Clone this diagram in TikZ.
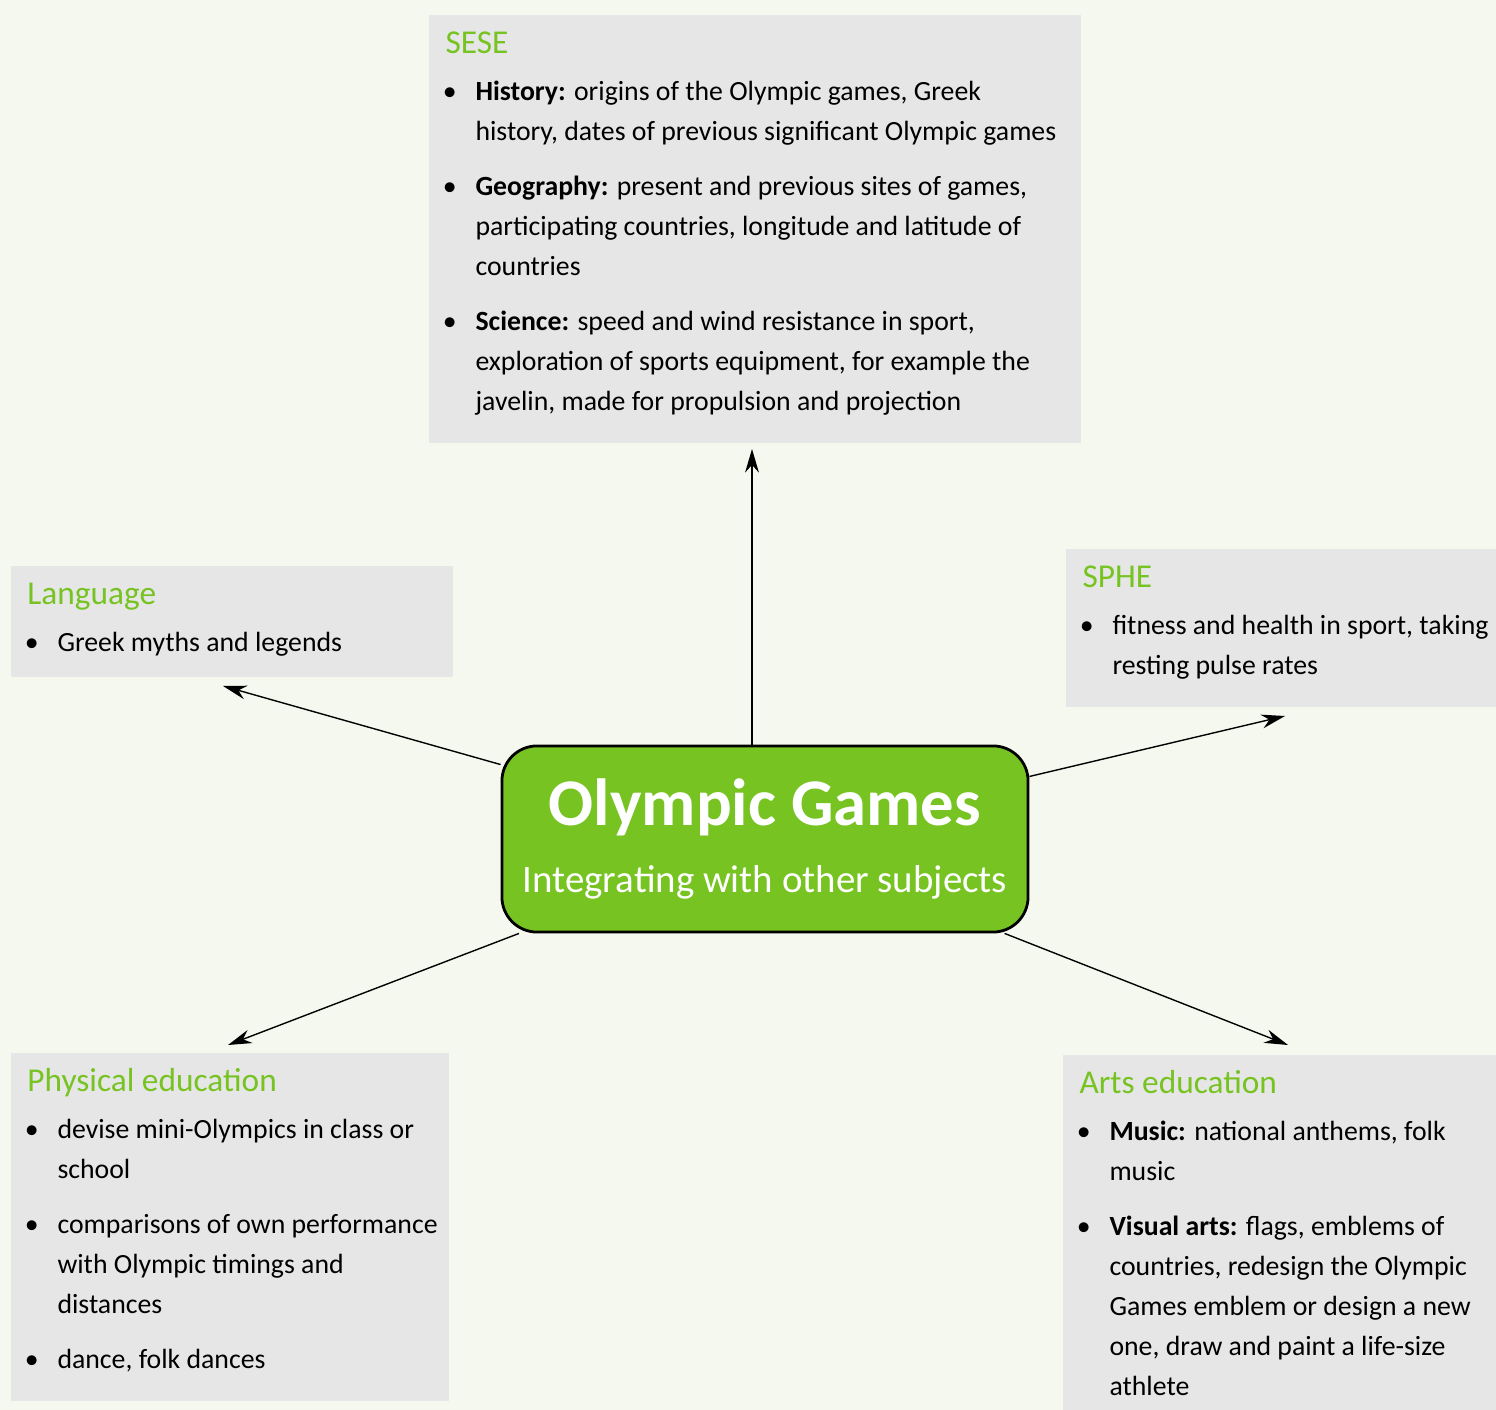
\documentclass[tikz,border=0pt]{standalone}
\usepackage{fontspec}
\setmainfont{Carlito}
\usepackage{enumitem}
\usetikzlibrary{arrows.meta}

\definecolor{sfondo}{RGB}{245,248,238}
\definecolor{grigio}{RGB}{230,230,230}
\definecolor{verde}{RGB}{118,195,34}

\setlist[itemize]{label=\textbullet, leftmargin=10.8pt, labelsep=6.8pt, itemsep=5.4pt, topsep=2.6pt, parsep=0pt, partopsep=0pt}
\newcommand{\titolo}[1]{{\fontsize{12}{14}\selectfont\color{verde}\rule{0pt}{14pt}#1\par}}

\begin{document}
\begin{tikzpicture}[
    x=0.36pt, y=-0.36pt,
    riquadro/.style={rectangle, fill=grigio, anchor=north west, inner xsep=6.1pt, inner ysep=0pt, font=\fontsize{10}{14.4}\selectfont},
    centro/.style={rectangle, rounded corners=12.6pt, fill=verde, draw=black, line width=1pt, minimum width=189.4pt, minimum height=67pt, inner sep=0pt, text=white, align=center, font=\fontsize{14}{23.8}\selectfont},
    freccia/.style={-{Stealth[length=8.5pt, width=5pt]}, line width=0.5pt, black}
]

    % 1. Sfondo e riquadro della pagina
    \fill[sfondo] (0,0) rectangle (1496,1410);
    \useasboundingbox (0,0) rectangle (1496,1410);

    % 2. Riquadri delle materie
    \node[riquadro] (SESE) at (428,14) {\begin{minipage}[c][154.4pt][t]{222.8pt}\raggedright
        \titolo{SESE}
        \begin{itemize}
            \item \textbf{History:} origins of the Olympic games, Greek\\ history, dates of previous significant Olympic games
            \item \textbf{Geography:} present and previous sites of games,\\ participating countries, longitude and latitude of\\ countries
            \item \textbf{Science:} speed and wind resistance in sport,\\ exploration of sports equipment, for example the\\ javelin, made for propulsion and projection
        \end{itemize}
    \end{minipage}};

    \node[riquadro] (Lang) at (10,565) {\begin{minipage}[c][40.3pt][t]{147.2pt}\raggedright
        \titolo{Language}
        \begin{itemize}
            \item Greek myths and legends
        \end{itemize}
    \end{minipage}};

    \node[riquadro] (SPHE) at (1065,548) {\begin{minipage}[c][56.9pt][t]{148pt}\raggedright
        \titolo{SPHE}
        \begin{itemize}
            \item fitness and health in sport, taking\\ resting pulse rates
        \end{itemize}
    \end{minipage}};

    \node[riquadro] (PE) at (10,1052) {\begin{minipage}[c][125.6pt][t]{145.8pt}\raggedright
        \titolo{Physical education}
        \begin{itemize}
            \item devise mini-Olympics in class or\\ school
            \item \makebox[\linewidth][l]{comparisons of own performance}\\ with Olympic timings and\\ distances
            \item dance, folk dances
        \end{itemize}
    \end{minipage}};

    \node[riquadro] (Arts) at (1062,1054) {\begin{minipage}[c][139pt][t]{147.2pt}\raggedright
        \titolo{Arts education}
        \begin{itemize}
            \item \textbf{Music:} national anthems, folk\\ music
            \item \textbf{Visual arts:} flags, emblems of\\ countries, redesign the Olympic\\ Games emblem or design a new\\ one, draw and paint a life-size\\ athlete
        \end{itemize}
    \end{minipage}};

    % 3. Nodo centrale
    \node[centro] (Centro) at (765,839) {{\fontsize{24}{28}\selectfont\bfseries Olympic Games}\\ Integrating with other subjects};

    % 4. Punte delle frecce
    \coordinate (P1) at (752,449);
    \coordinate (P2) at (223,686);
    \coordinate (P3) at (1285,716);
    \coordinate (P4) at (228,1045);
    \coordinate (P5) at (1288,1045);

    % 5. Frecce
    \draw[freccia] (Centro.north -| P1) -- (P1);
    \draw[freccia] (Centro) -- (P2);
    \draw[freccia] (Centro) -- (P3);
    \draw[freccia] (Centro) -- (P4);
    \draw[freccia] (Centro) -- (P5);

\end{tikzpicture}
\end{document}
